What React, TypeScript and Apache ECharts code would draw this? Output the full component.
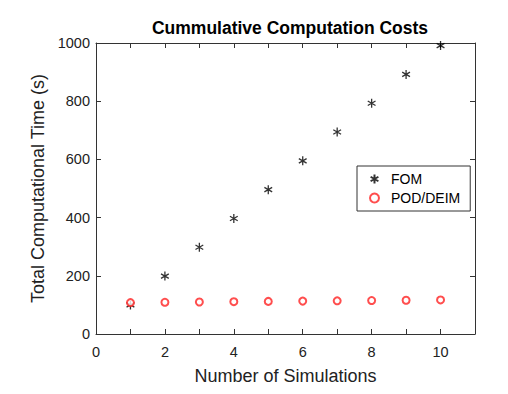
import React, { useEffect, useRef } from "react";
import * as echarts from "echarts";

const simulations = [1, 2, 3, 4, 5, 6, 7, 8, 9, 10];
const fomTimes = [100, 199, 298, 397, 496, 595, 694, 793, 892, 991];
const podDeimTimes = [108, 109, 110, 111, 112, 113, 114, 115, 116, 117];
const xTicks = [0, 2, 4, 6, 8, 10];
const yTicks = [0, 200, 400, 600, 800, 1000];

const FONT = "'Liberation Sans', Arial, sans-serif";
const STAR = "path://M0,-5L0,5M-4.33,-2.5L4.33,2.5M-4.33,2.5L4.33,-2.5";

export default function App() {
  const ref = useRef<HTMLDivElement>(null);
  useEffect(() => {
    if (!ref.current) return;
    const chart = echarts.init(ref.current, null, { renderer: "svg" });
    const axisBase = {
      axisLine: { show: true, onZero: false, lineStyle: { color: "#333", width: 1 } },
      axisTick: { show: true, inside: true, length: 5, lineStyle: { color: "#333" } },
      splitLine: { show: false },
    };
    chart.setOption({
      animation: false,
      backgroundColor: "#fff",
      title: {
        text: "Cummulative Computation Costs",
        left: 277,
        textAlign: "center",
        top: 6,
        textStyle: { fontFamily: FONT, fontSize: 17.5, fontWeight: "bold", color: "#000" },
      },
      grid: { left: 88, right: 25, top: 35, bottom: 52, outerBoundsMode: "none", containLabel: false },
      legend: {
        orient: "vertical",
        left: 349,
        top: 158,
        itemWidth: 9,
        itemHeight: 9,
        itemGap: 5,
        borderColor: "#333",
        borderWidth: 1,
        padding: [6, 10, 6, 12],
        backgroundColor: "#fff",
        textStyle: { fontFamily: FONT, fontSize: 14, color: "#000", padding: [0, 0, 0, 7] },
        data: ["FOM", "POD/DEIM"],
      },
      xAxis: [
        {
          ...axisBase,
          type: "value",
          min: 0,
          max: 11,
          interval: 1,
          name: "Number of Simulations",
          nameLocation: "middle",
          nameGap: 33,
          nameTextStyle: { fontFamily: FONT, fontSize: 18, color: "#222" },
          axisLabel: {
            fontFamily: FONT,
            fontSize: 14.5,
            color: "#222",
            margin: 10,
            formatter: (v: number) => (xTicks.includes(v) ? String(v) : ""),
          },
          axisTick: { show: true, inside: true, length: 5, interval: 0, lineStyle: { color: "#333" } },
        },
        {
          ...axisBase,
          type: "value",
          position: "top",
          min: 0,
          max: 11,
          interval: 1,
          axisLabel: { show: false },
        },
      ],
      yAxis: [
        {
          ...axisBase,
          type: "value",
          min: 0,
          max: 1000,
          interval: 200,
          name: "Total Computational Time (s)",
          nameLocation: "middle",
          nameGap: 47,
          nameTextStyle: { fontFamily: FONT, fontSize: 18, color: "#222" },
          axisLabel: {
            fontFamily: FONT,
            fontSize: 14.5,
            color: "#222",
            margin: 6,
            formatter: (v: number) => (yTicks.includes(v) ? String(v) : ""),
          },
        },
        {
          ...axisBase,
          type: "value",
          position: "right",
          min: 0,
          max: 1000,
          interval: 200,
          axisLabel: { show: false },
        },
      ],
      series: [
        {
          name: "FOM",
          type: "scatter",
          symbol: STAR,
          symbolSize: 9,
          symbolKeepAspect: true,
          itemStyle: { color: "transparent", borderColor: "#000", borderWidth: 1.3 },
          data: simulations.map((s, i) => [s, fomTimes[i]]),
        },
        {
          name: "POD/DEIM",
          type: "scatter",
          symbol: "emptyCircle",
          symbolSize: 7,
          itemStyle: { color: "#f22", borderColor: "#f22", borderWidth: 1 },
          data: simulations.map((s, i) => [s, podDeimTimes[i]]),
        },
      ],
    });
    return () => chart.dispose();
  }, []);
  return <div ref={ref} style={{ width: 492, height: 378 }} />;
}
